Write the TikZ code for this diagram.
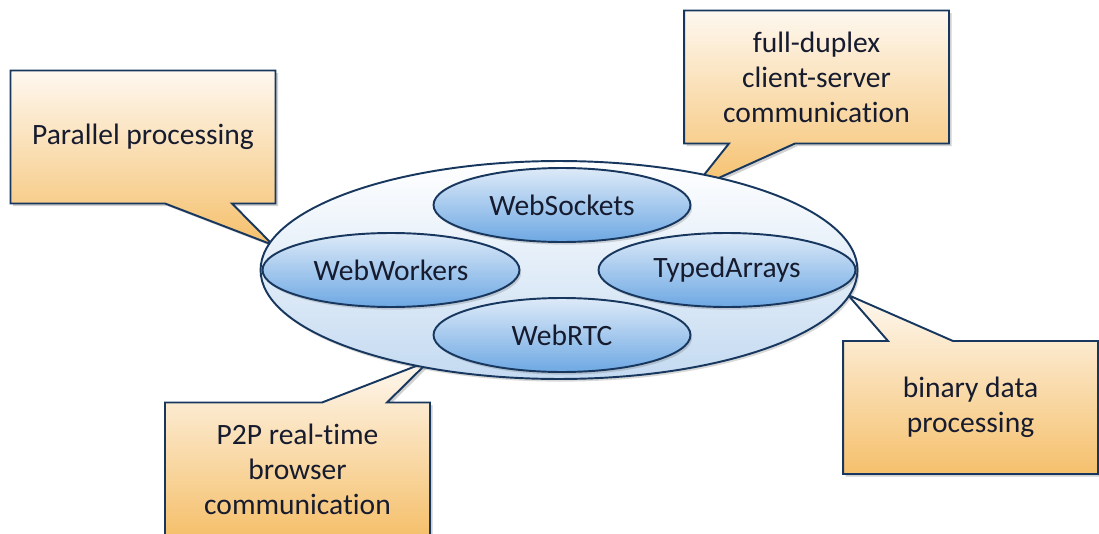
\documentclass[tikz,border=0pt]{standalone}
\usepackage{fontspec}
\setmainfont{Carlito}[Ligatures=NoCommon]
\usetikzlibrary{shapes.geometric,shadows,backgrounds}

\definecolor{navy}{HTML}{17375E}
\definecolor{ink}{HTML}{161B2E}
\definecolor{calltop}{HTML}{FEF8F0}
\definecolor{callbot}{HTML}{F5C06C}
\definecolor{techtop}{HTML}{DDEAF8}
\definecolor{techbot}{HTML}{6EA8E3}
\definecolor{coretop}{HTML}{FFFFFF}
\definecolor{corebot}{HTML}{C4DAF1}

\begin{document}
\begin{tikzpicture}[x=0.02cm, y=-0.02cm,
    txt/.style={font=\fontsize{16.8}{20}\selectfont, text=ink, align=center},
    box/.style={txt, rectangle, outer sep=0pt, minimum width=5.3cm, minimum height=2.66cm},
    callout/.style={draw=navy, line width=1.1pt, line join=miter, top color=calltop, bottom color=callbot,
        drop shadow={shadow xshift=1.5pt, shadow yshift=-1.5pt, opacity=0.3, fill=black!60}},
    tech/.style={txt, ellipse, draw=navy, line width=1.1pt, top color=techtop, bottom color=techbot,
        minimum width=5.14cm, minimum height=1.48cm,
        drop shadow={shadow xshift=1pt, shadow yshift=-1.5pt, opacity=0.25, fill=black!60}}]
    \clip (0,0) rectangle (1099,534);

    % the four notes
    \node[box] (par) at (143,137) {Parallel processing};
    \node[box] (full) at (816.5,77) {full-duplex\\client-server\\communication};
    \node[box, minimum width=5.1cm] (bin) at (970.5,407.5) {binary data\\processing};
    \node[box] (p2p) at (297.5,469) {P2P real-time\\browser\\communication};

    % where the pointers end
    \coordinate (tippar) at (273,245);
    \coordinate (tipfull) at (692,190);
    \coordinate (tipbin) at (848,295);
    \coordinate (tipp2p) at (429,361);

    % the ellipses
    \node[ellipse, draw=navy, line width=1.1pt, top color=coretop, bottom color=corebot,
        minimum width=11.94cm, minimum height=4.36cm,
        drop shadow={shadow xshift=1pt, shadow yshift=-1.5pt, opacity=0.25, fill=black!60}] (core) at (559,270) {};
    \node[tech] (sock) at (562,205) {WebSockets};
    \node[tech] (work) at (391,270) {WebWorkers};
    \node[tech] (typed) at (727,270) {TypedArrays};
    \node[tech] (rtc) at (562,335) {WebRTC};

    \begin{scope}[on background layer]
        \path[callout] (par.north west) -- (par.north east) -- (par.south east) -- (232,203.5)
            -- (tippar) -- (165,203.5) -- (par.south west) -- cycle;
        \path[callout] (full.north west) -- (full.north east) -- (full.south east) -- (795,143.5)
            -- (tipfull) -- (729,143.5) -- (full.south west) -- cycle;
        \path[callout] (bin.north west) -- (888,341) -- (tipbin) -- (953,341)
            -- (bin.north east) -- (bin.south east) -- (bin.south west) -- cycle;
        \path[callout] (p2p.north west) -- (322,402.5) -- (tipp2p) -- (387,402.5)
            -- (p2p.north east) -- (p2p.south east) -- (p2p.south west) -- cycle;
    \end{scope}
\end{tikzpicture}
\end{document}
